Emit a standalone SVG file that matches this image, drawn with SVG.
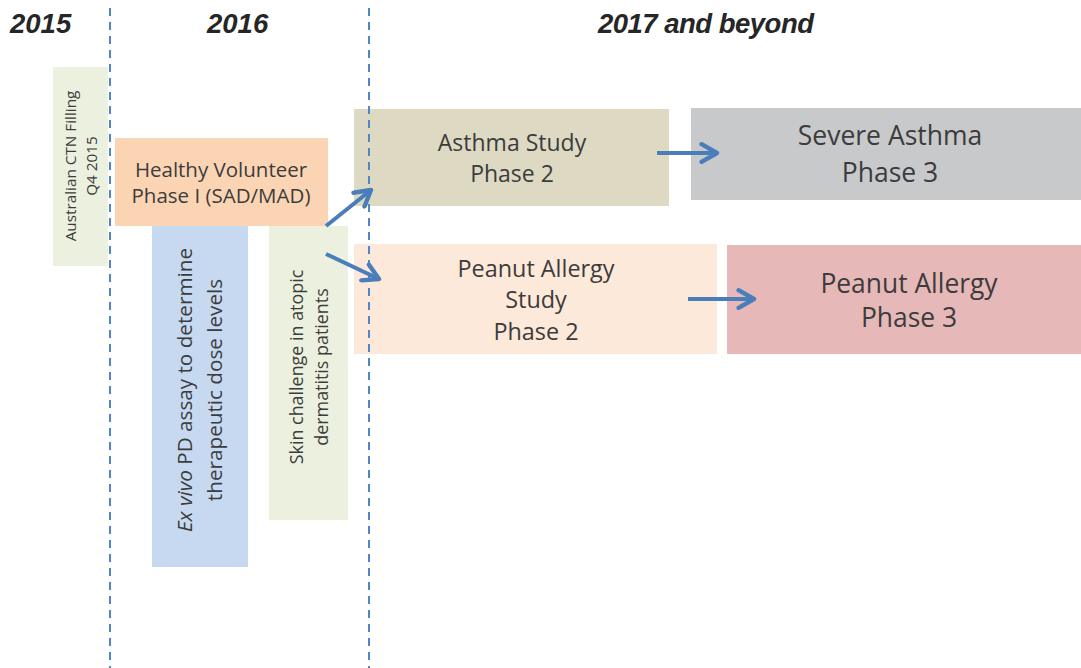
<svg xmlns="http://www.w3.org/2000/svg" width="1081" height="668" viewBox="0 0 1081 668">
<style>
.hdr{font-family:"Liberation Sans",Arial,sans-serif;font-weight:bold;font-style:italic;font-size:27.5px;fill:#262626}
.t{font-family:"Open Sans","Liberation Sans",sans-serif;fill:#3c3c3c;text-anchor:middle}
.dash{stroke:#4f86c6;stroke-width:2;stroke-dasharray:8,6}
.arr{stroke:#4a7ebb;stroke-width:4;fill:none}
</style>
<defs>
<marker id="ah" viewBox="0 0 10 10" refX="8" refY="5" markerWidth="5.5" markerHeight="5.5" orient="auto" markerUnits="strokeWidth">
<path d="M1,1 L8,5 L1,9" fill="none" stroke="#4a7ebb" stroke-width="2" stroke-linecap="round" stroke-linejoin="round"/>
</marker>
</defs>
<rect width="1081" height="668" fill="#fff"/>
<g id="headers">
<text class="hdr" x="10" y="33">2015</text>
<text class="hdr" x="207" y="33">2016</text>
<text class="hdr" x="598" y="33" textLength="216" lengthAdjust="spacing">2017 and beyond</text>
</g>
<g id="ctn">
<rect x="53" y="67" width="55" height="199" fill="#ebf1de"/>
<text class="t" font-size="15.3" transform="translate(80,166) rotate(-90)"><tspan x="0" y="-4">Australian CTN Filling</tspan><tspan x="0" y="17">Q4 2015</tspan></text>
</g>
<g id="exvivo">
<rect x="152" y="226" width="96" height="341" fill="#c6d9f1"/>
<text class="t" font-size="20.7" transform="translate(200,390) rotate(-90)"><tspan x="0" y="-8"><tspan font-style="italic">Ex vivo</tspan> PD assay to determine</tspan><tspan x="0" y="22">therapeutic dose levels</tspan></text>
</g>
<g id="skin">
<rect x="269" y="226" width="79" height="294" fill="#ebf1de"/>
<text class="t" font-size="17.9" transform="translate(308,367) rotate(-90)"><tspan x="0" y="-5.5">Skin challenge in atopic</tspan><tspan x="0" y="20">dermatitis patients</tspan></text>
</g>
<g id="healthy">
<rect x="115" y="138" width="213" height="88" fill="#fbd4b4"/>
<text class="t" font-size="20.5"><tspan x="221" y="177">Healthy Volunteer</tspan><tspan x="221" y="203">Phase I (SAD/MAD)</tspan></text>
</g>
<g id="asthma2">
<rect x="354" y="109" width="315" height="97" fill="#ddd9c3"/>
<text class="t" font-size="23"><tspan x="512" y="151">Asthma Study</tspan><tspan x="512" y="182">Phase 2</tspan></text>
</g>
<g id="asthma3">
<rect x="691" y="108" width="390" height="92" fill="#c8c9cb"/>
<text class="t" font-size="26.5"><tspan x="890" y="145">Severe Asthma</tspan><tspan x="890" y="182">Phase 3</tspan></text>
</g>
<g id="peanut2">
<rect x="354" y="244" width="363" height="110" fill="#fde9d9"/>
<text class="t" font-size="23.4"><tspan x="536" y="277">Peanut Allergy</tspan><tspan x="536" y="308">Study</tspan><tspan x="536" y="340">Phase 2</tspan></text>
</g>
<g id="peanut3">
<rect x="727" y="245" width="354" height="109" fill="#e6b9b8"/>
<text class="t" font-size="26.4"><tspan x="909" y="293">Peanut Allergy</tspan><tspan x="909" y="327">Phase 3</tspan></text>
</g>
<g id="dividers">
<line class="dash" x1="110" y1="8" x2="110" y2="668"/>
<line class="dash" x1="369" y1="8" x2="369" y2="668"/>
</g>
<g id="connectors">
<line class="arr" x1="326" y1="226" x2="371" y2="190" marker-end="url(#ah)"/>
<line class="arr" x1="326" y1="254" x2="379" y2="279" marker-end="url(#ah)"/>
<line class="arr" x1="657" y1="153" x2="717" y2="153" marker-end="url(#ah)"/>
<line class="arr" x1="688" y1="299" x2="754" y2="299" marker-end="url(#ah)"/>
</g>
</svg>
